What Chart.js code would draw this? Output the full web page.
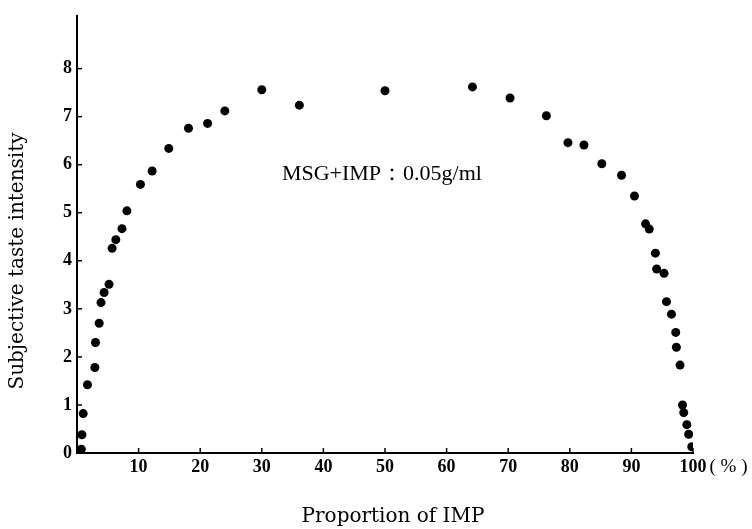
<!DOCTYPE html>
<html>
<head>
<meta charset="utf-8">
<script src="https://cdn.jsdelivr.net/npm/chart.js@4.4.0/dist/chart.umd.min.js"></script>
<style>
html,body{margin:0;padding:0;background:#fff;}
#wrap{width:752px;height:529px;position:relative;}
</style>
</head>
<body>
<div id="wrap"><canvas id="c" width="752" height="529"></canvas></div>
<script>
// Proportion of IMP (%)
const proportionIMP = [0.3,0.7,0.8,1.0,1.7,2.9,3.0,3.6,3.9,4.4,5.2,5.7,6.3,7.3,8.1,10.3,12.2,14.9,18.1,21.2,24.0,30.0,36.1,50.0,64.2,70.3,76.2,79.7,82.3,85.2,88.4,90.5,92.3,92.9,93.9,94.1,95.3,95.7,96.5,97.2,97.3,97.9,98.3,98.5,99.0,99.3,99.8];
// Subjective taste intensity
const tasteIntensity = [0.05,0.08,0.38,0.82,1.42,1.78,2.30,2.70,3.13,3.34,3.51,4.26,4.44,4.67,5.04,5.59,5.87,6.34,6.76,6.86,7.12,7.56,7.24,7.54,7.62,7.39,7.02,6.46,6.41,6.02,5.78,5.35,4.77,4.66,4.16,3.83,3.74,3.15,2.89,2.51,2.20,1.83,1.00,0.84,0.59,0.39,0.13];
const xTicks = [10,20,30,40,50,60,70,80,90,100];
const yTicks = [0,1,2,3,4,5,6,7,8];
const xTitle = 'Proportion of IMP';
const yTitle = 'Subjective taste intensity';
const noteText = 'MSG+IMP：0.05g/ml';
const notePos = {x: 49.5, y: 5.8};

const points = proportionIMP.map((x,i)=>({x:x, y:tasteIntensity[i]}));

const tickFont = {family:'Liberation Serif', size:18, weight:'bold'};

const customText = {
  id:'customText',
  afterDraw(chart){
    const ctx = chart.ctx;
    const xs = chart.scales.x, ys = chart.scales.y;
    ctx.save();
    ctx.fillStyle = '#000';
    ctx.strokeStyle = '#000';
    // inner tick marks
    ctx.lineWidth = 1.5;
    const ax = xs.left, ay = ys.bottom;
    xTicks.forEach(v=>{
      const px = xs.getPixelForValue(v);
      ctx.beginPath(); ctx.moveTo(px, ay); ctx.lineTo(px, ay-5); ctx.stroke();
    });
    yTicks.forEach(v=>{
      const py = ys.getPixelForValue(v);
      ctx.beginPath(); ctx.moveTo(ax, py); ctx.lineTo(ax+5, py); ctx.stroke();
    });
    // (%) after 100
    ctx.textBaseline = 'middle';
    ctx.textAlign = 'left';
    const p100 = xs.getPixelForValue(100);
    ctx.font = 'bold 18px "Liberation Serif"';
    const w100 = ctx.measureText('100').width;
    ctx.font = '19px "Liberation Serif"';
    ctx.fillText('( % )', p100 + w100/2 + 3, ay + 14);
    // note
    ctx.font = '22px "Liberation Serif"';
    ctx.textAlign = 'center';
    ctx.fillText(noteText, xs.getPixelForValue(notePos.x), ys.getPixelForValue(notePos.y));
    // axis titles
    ctx.font = '20px "DejaVu Serif"';
    ctx.fillText(xTitle, 393, 517);
    ctx.translate(18, 261);
    ctx.rotate(-Math.PI/2);
    ctx.fillText(yTitle, 0, 0);
    ctx.restore();
  }
};

new Chart(document.getElementById('c'), {
  type:'scatter',
  data:{datasets:[{
    data: points,
    backgroundColor:'#000',
    borderColor:'#000',
    pointRadius:4.5,
    pointHoverRadius:4.5,
    borderWidth:0
  }]},
  options:{
    responsive:false,
    animation:false,
    events:[],
    layout:{padding:{left:0,right:59,top:10,bottom:0}},
    plugins:{legend:{display:false},tooltip:{enabled:false}},
    scales:{
      x:{
        type:'linear', min:0, max:100,
        afterBuildTicks(s){ s.ticks = xTicks.map(v=>({value:v})); },
        afterFit(s){ s.height = 76; },
        grid:{display:false, drawTicks:false},
        border:{display:true,color:'#000',width:2},
        ticks:{color:'#000',font:tickFont,padding:4,autoSkip:false,maxRotation:0,
          callback:(v)=>String(v)}
      },
      y:{
        type:'linear', min:0, max:9.1,
        afterBuildTicks(s){ s.ticks = yTicks.map(v=>({value:v})); },
        afterFit(s){ s.width = 77; },
        grid:{display:false, drawTicks:false},
        border:{display:true,color:'#000',width:2},
        ticks:{color:'#000',font:tickFont,padding:5,autoSkip:false,
          callback:(v)=>String(v)}
      }
    }
  },
  plugins:[customText]
});
</script>
</body>
</html>
